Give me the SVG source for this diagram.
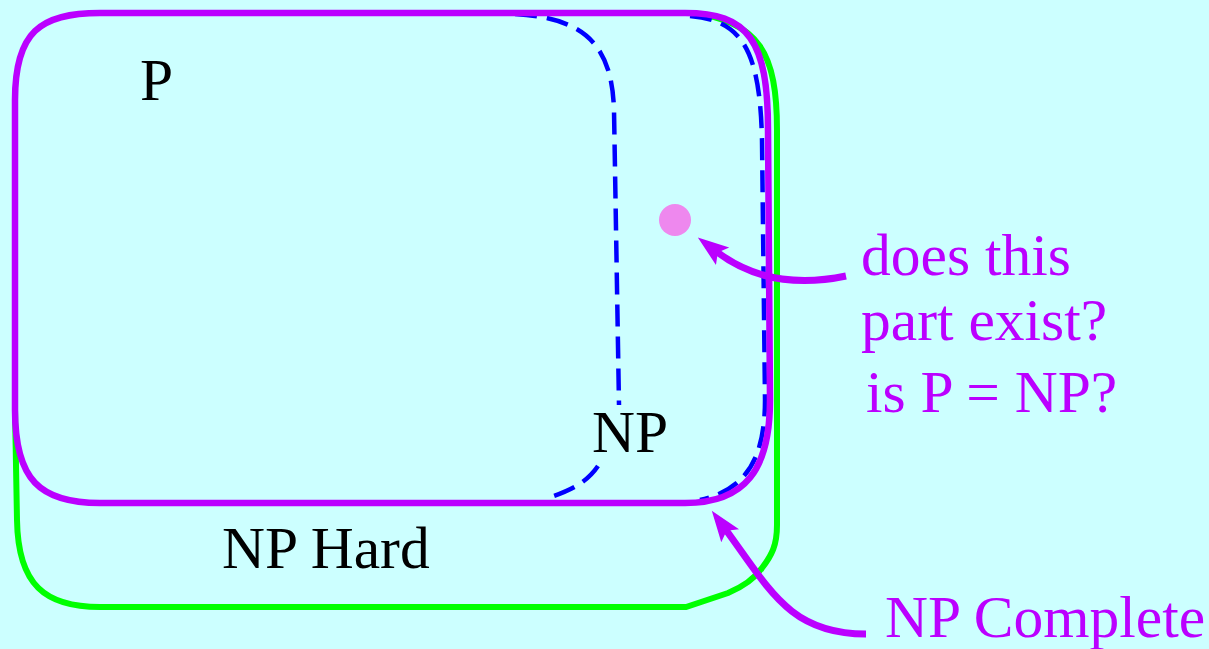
<svg xmlns="http://www.w3.org/2000/svg" width="1209" height="649" viewBox="0 0 1209 649">
<defs>
<style>
.lbl{font-family:"Liberation Serif","Times New Roman",serif;font-size:59.5px}
.blk{fill:#000}
.pur{fill:#BB00FF}
.dash{fill:none;stroke:#0000FF;stroke-width:4.5;stroke-dasharray:22 10}
.arr{fill:none;stroke:#BB00FF;stroke-width:7}
</style>
<marker id="head" markerUnits="userSpaceOnUse" orient="auto" markerWidth="40" markerHeight="40" refX="5" refY="0" viewBox="-2 -20 40 40" overflow="visible">
<path d="M 29 0 L -2 -11 L 4 0 L -2 11 Z" fill="#BB00FF"/>
</marker>
</defs>
<rect width="1209" height="649" fill="#CCFFFF"/>
<g id="np-hard">
<path d="M 15 410 L 17 520 C 18 585 45 607 100 607 L 686 607 L 728 593 C 745 586 755 578 762 568 C 772 555 777 545 777 525 L 777 130 C 777 55 760 20 690 13" fill="none" stroke="#00FF00" stroke-width="6"/>
</g>
<g id="np">
<path class="dash" d="M 515 14 C 585 18 612 45 614 110 L 619 405"/>
<path class="dash" d="M 598 466 C 587 482 572 490 548 498"/>
<path class="dash" d="M 690 16 C 742 20 760 50 762 140 L 765 400 C 765 460 745 490 700 500"/>
</g>
<g id="np-complete">
<path d="M 15 410 L 15 100 C 15 32 40 13 100 13 L 685 13 C 748 13 768 40 768 130 L 770 400 C 770 470 745 503 685 503 L 100 503 C 40 503 15 480 15 410 Z" fill="none" stroke="#BB00FF" stroke-width="6.5"/>
</g>
<g id="dot">
<circle cx="675" cy="220" r="16" fill="#EE88EE"/>
</g>
<g id="connectors">
<path class="arr" d="M 846 276 Q 770 292 717 252" marker-end="url(#head)"/>
<path class="arr" d="M 866 634 C 790 634 770 590 726 530" marker-end="url(#head)"/>
</g>
<g id="labels">
<text class="lbl blk" x="140" y="100">P</text>
<text class="lbl blk" x="592" y="452">NP</text>
<text class="lbl blk" x="222" y="568">NP Hard</text>
<text class="lbl pur" x="861" y="275">does this</text>
<text class="lbl pur" x="861" y="340">part exist?</text>
<text class="lbl pur" x="866" y="412">is P = NP?</text>
<text class="lbl pur" x="885" y="637">NP Complete</text>
</g>
</svg>
